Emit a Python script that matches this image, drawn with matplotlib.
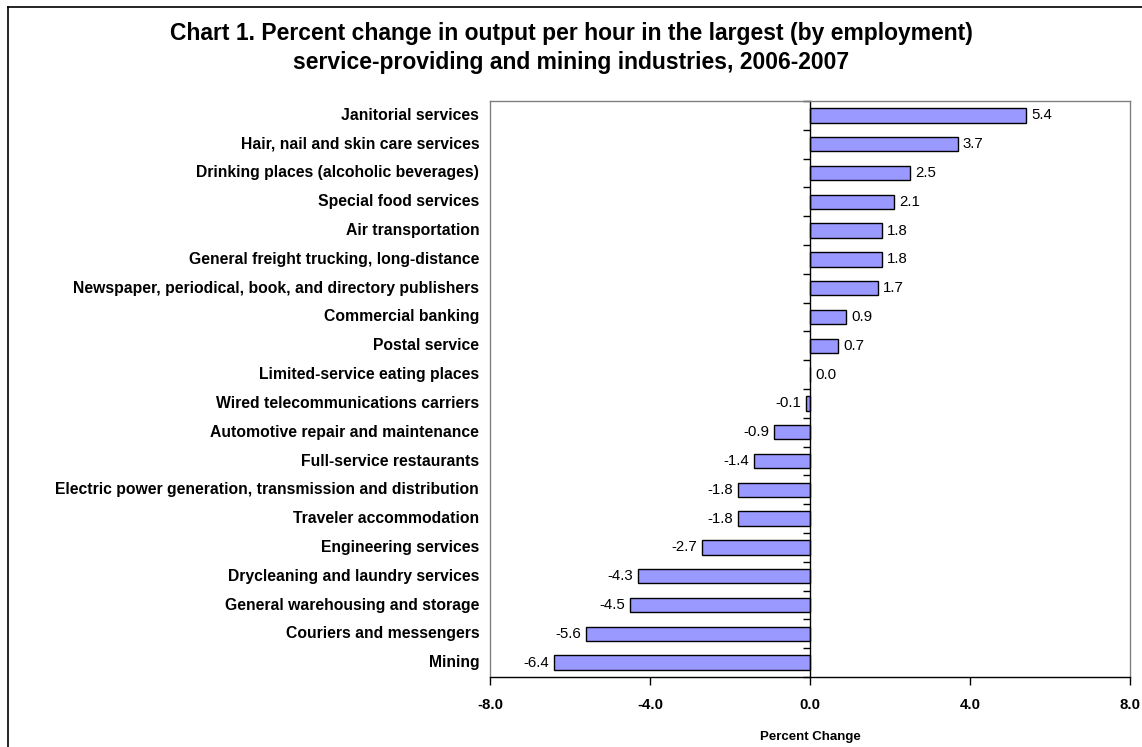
import numpy as np
import matplotlib.pyplot as plt
from matplotlib.lines import Line2D

plt.rcParams['font.family'] = ['Liberation Sans', 'DejaVu Sans']

industries = [
    "Janitorial services",
    "Hair, nail and skin care services",
    "Drinking places (alcoholic beverages)",
    "Special food services",
    "Air transportation",
    "General freight trucking, long-distance",
    "Newspaper, periodical, book, and directory publishers",
    "Commercial banking",
    "Postal service",
    "Limited-service eating places",
    "Wired telecommunications carriers",
    "Automotive repair and maintenance",
    "Full-service restaurants",
    "Electric power generation, transmission and distribution",
    "Traveler accommodation",
    "Engineering services",
    "Drycleaning and laundry services",
    "General warehousing and storage",
    "Couriers and messengers",
    "Mining",
]
pct_change = [5.4, 3.7, 2.5, 2.1, 1.8, 1.8, 1.7, 0.9, 0.7, 0.0,
              -0.1, -0.9, -1.4, -1.8, -1.8, -2.7, -4.3, -4.5, -5.6, -6.4]
xticks = [-8.0, -4.0, 0.0, 4.0, 8.0]

fig = plt.figure(figsize=(11.42, 7.47), dpi=100)
ax = fig.add_axes([0.4291, 0.0937, 0.5604, 0.7711])

y = np.arange(len(industries))
ax.barh(y, pct_change, height=0.5, color="#9999FF", edgecolor="black", linewidth=1.0)

ax.set_xlim(-8, 8)
ax.set_ylim(len(industries) - 0.5, -0.5)

# value labels next to bar ends
for yi, v in zip(y, pct_change):
    if v >= 0:
        ax.annotate(f"{v:.1f}", (v, yi), xytext=(3.5, 0), textcoords="offset points",
                    ha="left", va="center", fontsize=10.8)
    else:
        ax.annotate(f"{v:.1f}", (v, yi), xytext=(-3.5, 0), textcoords="offset points",
                    ha="right", va="center", fontsize=10.8)

# category labels left of the plot area
trans = ax.get_yaxis_transform()
for yi, name in zip(y, industries):
    ax.text(-0.017, yi, name, transform=trans, ha="right", va="center",
            fontsize=11.3, fontweight="bold")

# y axis line at zero with ticks between categories
ax.spines['left'].set_position(('data', 0))
ax.spines['left'].set_linewidth(1.0)
ax.set_yticks([])
ax.set_yticks(np.arange(len(industries) + 1) - 0.5, minor=True)
ax.tick_params(axis='y', which='minor', length=5, direction='out', width=1.0)
ax.yaxis.set_minor_formatter(plt.NullFormatter())

for s in ['top', 'right']:
    ax.spines[s].set_color('#808080')
    ax.spines[s].set_linewidth(1.0)
ax.spines['bottom'].set_linewidth(1.0)
ax.add_line(Line2D([0, 0], [0, 1], transform=ax.transAxes, color='#808080',
                   linewidth=1.0, clip_on=False))

ax.set_xticks(xticks)
ax.set_xticklabels([f"{t:.1f}" for t in xticks], fontweight="bold", fontsize=10.8)
ax.tick_params(axis='x', length=6, width=1.0, pad=9)
ax.set_xlabel("Percent Change", fontsize=9.5, fontweight="bold", labelpad=14)

fig.text(0.5, 0.97, "Chart 1. Percent change in output per hour in the largest (by employment)\n"
         "service-providing and mining industries, 2006-2007",
         ha="center", va="top", fontsize=16.5, fontweight="bold", linespacing=1.3)

# outer chart border
fig.add_artist(Line2D([8 / 1142, 8 / 1142], [0, 1 - 7 / 747], transform=fig.transFigure,
                      color='black', linewidth=1.2))
fig.add_artist(Line2D([8 / 1142, 1], [1 - 7 / 747, 1 - 7 / 747], transform=fig.transFigure,
                      color='black', linewidth=1.2))

fig.savefig("out.png", dpi=100)
